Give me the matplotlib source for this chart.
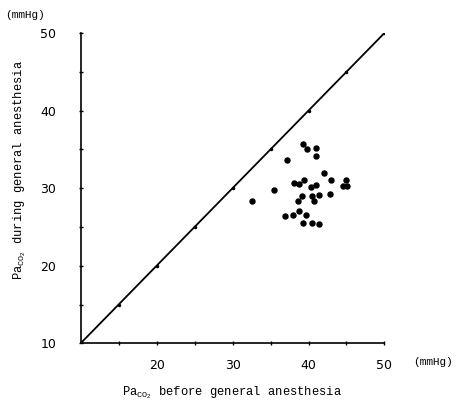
import matplotlib
matplotlib.use("Agg")
import matplotlib.pyplot as plt
import numpy as np

before = [32.5, 35.4, 37.2, 39.25, 39.8, 41.05, 41.0, 42.1, 42.9, 44.9, 44.6, 45.1,
          38.1, 38.8, 39.4, 40.3, 41.05, 39.1, 38.6, 40.5, 40.7, 41.4, 42.8,
          38.7, 38.0, 36.9, 39.7, 39.3, 40.4, 41.4]
during = [28.3, 29.7, 33.6, 35.7, 35.0, 35.2, 34.2, 31.9, 31.0, 31.1, 30.3, 30.3,
          30.7, 30.5, 31.1, 30.2, 30.4, 29.0, 28.4, 29.0, 28.3, 29.1, 29.2,
          27.1, 26.5, 26.4, 26.5, 25.5, 25.5, 25.4]
identity = [10, 15, 20, 25, 30, 35, 40, 45, 50]
xticks = [20, 30, 40, 50]
yticks = [10, 20, 30, 40, 50]

plt.rcParams['mathtext.fontset'] = 'custom'
plt.rcParams['mathtext.rm'] = 'Liberation Mono'
plt.rcParams['mathtext.it'] = 'Liberation Mono'

fig = plt.figure(figsize=(4.61, 4.15), dpi=100)
ax = fig.add_axes([0.175, 0.1728, 0.659, 0.7477])

ax.plot(identity, identity, color='black', lw=1.3, marker='o', markersize=1.5)
ax.scatter(before, during, s=13, color='black', zorder=3)

ax.set_xlim(10, 50)
ax.set_ylim(10, 50)
ax.spines['top'].set_visible(False)
ax.spines['right'].set_visible(False)
ax.spines['left'].set_linewidth(1.2)
ax.spines['bottom'].set_linewidth(1.2)

ax.set_xticks(xticks)
ax.set_yticks(yticks)
ax.set_xticks([15, 25, 35, 45], minor=True)
ax.set_yticks([15, 25, 35, 45], minor=True)
ax.tick_params(which='both', direction='inout', length=3, width=1)
ax.tick_params(axis='x', pad=10, labelsize=9)
ax.tick_params(axis='y', pad=16, labelsize=9)

fig.text(5/461, 1 - 15/415, '(mmHg)', family='Liberation Mono', fontsize=8, va='center', ha='left')
fig.text(413/461, 1 - 362/415, '(mmHg)', family='Liberation Mono', fontsize=8, va='center', ha='left')

fig.text(232/461, 1 - 393/415, r'Pa$_{\mathrm{CO_2}}$ before general anesthesia',
         family='Liberation Mono', fontsize=8.7, ha='center', va='center')
fig.text(20/461, 1 - 170/415, r'Pa$_{\mathrm{CO_2}}$ during general anesthesia',
         family='Liberation Mono', fontsize=8.7, ha='center', va='center', rotation=90)

fig.savefig('out.png', dpi=100)
